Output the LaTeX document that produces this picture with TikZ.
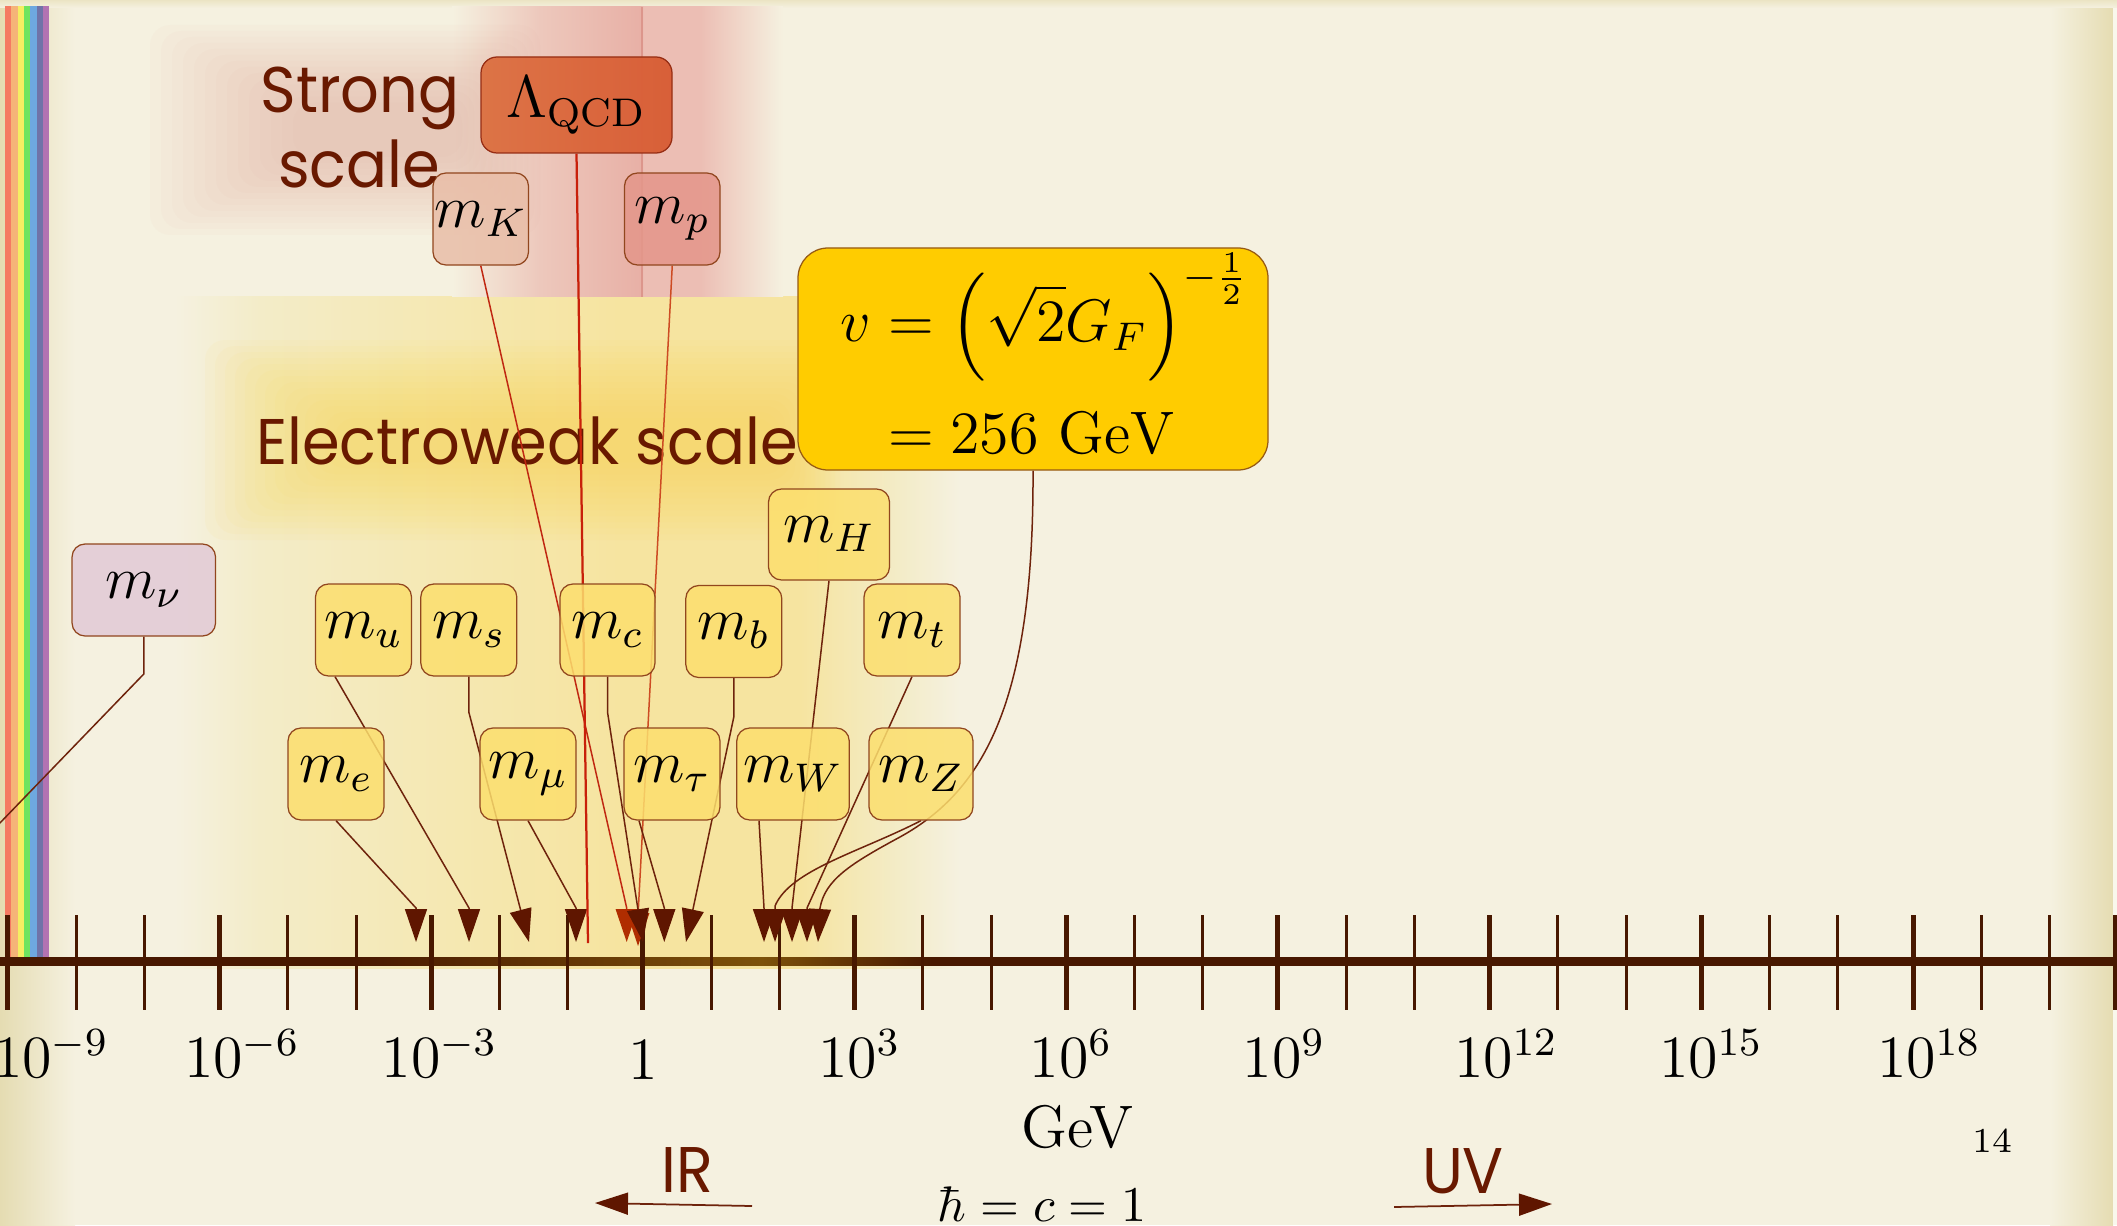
\documentclass[tikz,border=0pt]{standalone}
\usepackage{amsmath}
\usepackage{fontspec}
\newfontfamily\roundfont[FakeStretch=0.94]{Poppins}
\usetikzlibrary{arrows.meta,calc}
\definecolor{bgc}{RGB}{245,241,224}
\definecolor{edgec}{RGB}{229,220,178}
\definecolor{txtc}{RGB}{105,25,0}
\definecolor{axisc}{RGB}{72,24,0}
\definecolor{axgold}{RGB}{125,82,10}
\definecolor{linec}{RGB}{110,35,12}
\definecolor{tipc}{RGB}{95,22,0}
\definecolor{redl}{RGB}{192,40,18}
\definecolor{redl2}{RGB}{205,75,35}
\definecolor{redtip}{RGB}{176,45,0}
\definecolor{lamlc}{RGB}{200,32,10}
\definecolor{myel}{RGB}{252,223,110}
\definecolor{boxbd}{RGB}{145,70,30}
\definecolor{vfill}{RGB}{255,204,0}
\definecolor{vbd}{RGB}{150,90,20}
\definecolor{nufill}{RGB}{226,202,214}
\definecolor{kfill}{RGB}{233,190,168}
\definecolor{pfill}{RGB}{228,150,138}
\definecolor{lamL}{RGB}{216,98,62}
\definecolor{lamR}{RGB}{211,74,46}
\definecolor{lambd}{RGB}{150,45,20}
\definecolor{yw1}{RGB}{243,236,200}
\definecolor{yw2}{RGB}{245,232,178}
\definecolor{yw3}{RGB}{246,228,160}
\definecolor{ywglow}{RGB}{252,216,85}
\definecolor{rbA}{RGB}{237,200,188}
\definecolor{rbB}{RGB}{232,176,166}
\definecolor{rbC}{RGB}{236,190,180}
\definecolor{rbline}{RGB}{220,150,140}
\definecolor{pinkglow}{RGB}{228,165,152}
\definecolor{rc1}{RGB}{245,122,98}
\definecolor{rc2}{RGB}{245,180,120}
\definecolor{rc3}{RGB}{245,238,98}
\definecolor{rc4}{RGB}{110,228,95}
\definecolor{rc5}{RGB}{110,168,224}
\definecolor{rc6}{RGB}{112,115,168}
\definecolor{rc7}{RGB}{178,115,178}
\pgfdeclarehorizontalshading{ywband}{100bp}{color(0bp)=(bgc); color(25bp)=(bgc); color(30.4bp)=(yw1); color(42.5bp)=(yw2); color(53.3bp)=(yw3); color(64.8bp)=(yw3); color(71.2bp)=(yw1); color(75bp)=(bgc); color(100bp)=(bgc)}
\pgfdeclarehorizontalshading{redband}{100bp}{color(0bp)=(bgc); color(25bp)=(bgc); color(38.3bp)=(rbA); color(53.5bp)=(rbB); color(53.9bp)=(rbC); color(62.5bp)=(rbC); color(75bp)=(bgc); color(100bp)=(bgc)}
\pgfdeclarehorizontalshading{axshade}{100bp}{color(0bp)=(axisc); color(33.3bp)=(axisc); color(43bp)=(axgold); color(47bp)=(axisc); color(100bp)=(axisc)}
\pgfdeclarelayer{back}
\pgfdeclarelayer{mid}
\pgfsetlayers{back,mid,main}
\begin{document}
\begin{tikzpicture}[x=0.2pt,y=-0.2pt,
  mbox/.style={draw=boxbd, line width=0.25pt, rounded corners=2.6pt, fill=myel, fill opacity=0.85, text opacity=1, inner sep=0pt, minimum width=19.2pt, minimum height=18.4pt, font=\fontsize{12}{14}\selectfont},
  conn/.style={draw=linec, line width=0.3pt, -{Triangle[length=6.6pt,width=4.4pt,color=tipc]}},
  redconn/.style={draw=redl, line width=0.3pt, -{Triangle[length=6.6pt,width=4.4pt,color=redtip]}},
  axlab/.style={font=\fontsize{12}{14}\selectfont, inner sep=0pt, anchor=base},
  scaletxt/.style={font=\roundfont\fontsize{12.9}{15}\selectfont, text=txtc, inner sep=0pt, anchor=base},
  majtick/.style={draw=axisc, line width=1pt},
  mintick/.style={draw=axisc, line width=0.6pt},
  dirarrow/.style={draw=linec, line width=0.35pt, -{Triangle[length=6.6pt,width=4.4pt,color=tipc]}}
]
\useasboundingbox (0,0) rectangle (2117,1225);
\clip (0,0) rectangle (2117,1225);

% ---------- boxes ----------
\node[mbox, draw=lambd, left color=lamL, right color=lamR, minimum width=38.2pt, minimum height=19.2pt, rounded corners=3.2pt] (lam) at (576.5,105) {$\Lambda_{\mathrm{QCD}}$};
\node[mbox, fill=kfill, minimum width=19.1pt] (mK) at (480.75,219) {$m_K$};
\node[mbox, fill=pfill, minimum width=19.1pt] (mp) at (672.25,219) {$m_p$};
\node[mbox, fill=nufill, minimum width=28.7pt] (mnu) at (143.8,590) {$m_\nu$};
\node[mbox] (mu) at (363.5,630) {$m_u$};
\node[mbox] (ms) at (468.8,630) {$m_s$};
\node[mbox, minimum width=19pt] (mc) at (607.5,630) {$m_c$};
\node[mbox] (mb) at (733.8,631.5) {$m_b$};
\node[mbox] (mt) at (912,630) {$m_t$};
\node[mbox, minimum width=24.2pt, minimum height=18.2pt] (mH) at (829,534.5) {$m_H$};
\node[mbox] (me) at (336,774) {$m_e$};
\node[mbox] (mmu) at (528,774) {$m_\mu$};
\node[mbox] (mtau) at (672,774) {$m_\tau$};
\node[mbox, minimum width=22.5pt] (mW) at (793,774) {$m_W$};
\node[mbox, minimum width=20.8pt] (mZ) at (921,774) {$m_Z$};
\node[mbox, fill=vfill, fill opacity=1, draw=vbd, minimum width=94pt, minimum height=44.4pt, rounded corners=6pt] (v) at (1033,359) {\hspace*{4.8pt}\raisebox{-0.95pt}[\height][\depth]{$\displaystyle\begin{aligned} v &= \Big(\sqrt{2}G_F\Big)^{-\frac{1}{2}}\\[0.7pt] &= 256\ \mathrm{GeV}\end{aligned}$}};

\node[scaletxt] (strong1) at (360,113) {Strong};
\node[scaletxt] (strong2) at (359,188) {scale};

% ---------- background layer ----------
\begin{pgfonlayer}{back}
\clip (0,0) rectangle (2117,1225);
\fill[bgc] (0,0) rectangle (2117,1225);
\fill[left color=edgec, right color=bgc] (0,0) rectangle (75,1225);
\fill[left color=bgc, right color=edgec] (2050,0) rectangle (2113,1225);
\fill[bgc!60!white] (2113,0) rectangle (2117,1225);
\fill[top color=edgec!60!bgc, bottom color=bgc] (0,0) rectangle (2117,8);
% yellow electroweak region
\shade[shading=ywband] (175,297) rectangle (960,968);
\foreach \i in {0,...,13}
  \fill[ywglow, fill opacity=0.055, rounded corners=4pt] ({205+\i*10},{340+\i*6}) rectangle ({840-\i*5},{540-\i*6});
% red strong region
\shade[shading=redband] (452,7) rectangle (783,297);
\draw[rbline, line width=0.3pt] (642,7) -- (642,297);
\foreach \i in {0,...,13}
  \fill[pinkglow, fill opacity=0.045, rounded corners=4pt] ({150+\i*11},{25+\i*6}) rectangle ({540-\i*6},{235-\i*6});
% rainbow
\foreach \c [count=\i from 0] in {rc1,rc2,rc3,rc4,rc5,rc6,rc7}
  \fill[\c] ({5+6.3*\i},6) rectangle ({11.4+6.3*\i},957);
% axis
\shade[shading=axshade] (0,957) rectangle (2117,965);
\foreach \k in {0,...,9} {
  \draw[majtick] ({7.7+211.7*\k},915) -- ++(0,95);
  \draw[mintick] ({76+211.7*\k},915) -- ++(0,95);
  \draw[mintick] ({144.3+211.7*\k},915) -- ++(0,95);
}
\draw[majtick] (2115,915) -- ++(0,95);
\node[axlab] (l9) at (51,1077) {$10^{-9}$};
\node[axlab] (l6) at (242,1077) {$10^{-6}$};
\node[axlab] (l3) at (439.5,1077) {$10^{-3}$};
\node[axlab] (l0) at (643.6,1079) {$1$};
\node[axlab] (p3) at (859.4,1077) {$10^{3}$};
\node[axlab] (p6) at (1071,1077) {$10^{6}$};
\node[axlab] (p9) at (1284,1077) {$10^{9}$};
\node[axlab] (p12) at (1506,1077) {$10^{12}$};
\node[axlab] (p15) at (1711,1077) {$10^{15}$};
\node[axlab] (p18) at (1929,1077) {$10^{18}$};
\node[axlab] (gev) at (1077.5,1147) {GeV};
\node[axlab, font=\fontsize{10}{12}\selectfont] (units) at (1042,1221) {$\hbar = c = 1$};
\node[axlab, font=\fontsize{7}{9}\selectfont] (page) at (1992,1152) {14};
\node[scaletxt] (ew) at (527,464) {Electroweak scale};
\node[scaletxt] (ir) at (687.5,1192) {IR};
\node[scaletxt] (uv) at (1463,1193) {UV};
\coordinate (irA) at (752,1206);
\coordinate (irB) at (595,1203);
\coordinate (uvA) at (1394,1207);
\coordinate (uvB) at (1552,1204);
\draw[dirarrow] (irA) -- (irB);
\draw[dirarrow] (uvA) -- (uvB);
\end{pgfonlayer}

% ---------- connectors ----------
\begin{pgfonlayer}{mid}
\clip (0,0) rectangle (2117,1225);
\coordinate (tnu) at (-115,942);
\coordinate (te) at (416,942);
\coordinate (tu) at (469,942);
\coordinate (ts) at (529,942);
\coordinate (tmu) at (576,942);
\coordinate (tK) at (626.7,942);
\coordinate (tp) at (638,946);
\coordinate (tL) at (588,943);
\coordinate (tc) at (643,942);
\coordinate (ttau) at (664.3,942);
\coordinate (tb) at (686,942);
\coordinate (tW) at (764,942);
\coordinate (tZ) at (775,942);
\coordinate (tH) at (792,942);
\coordinate (tt) at (807,942);
\coordinate (tv) at (818,942);
\draw[conn] (mnu.south) -- (143.8,674) -- (tnu);
\draw[conn] (me.south) -- (416,908) -- (te);
\draw[conn] ($(mu.south)+(-28.5,0)$) -- (469,908) -- (tu);
\draw[conn] (ms.south) -- (468.8,712) -- (ts);
\draw[conn] (mmu.south) -- (576,908) -- (tmu);
\draw[redconn] (mK.south) -- (626.7,908) -- (tK);
\draw[redconn, draw=redl2] (mp.south) -- (638.3,910) -- (tp);
\draw[draw=lamlc, line width=0.45pt] (lam.south) -- (tL);
\draw[conn] (mc.south) -- (607.5,712) -- (tc);
\draw[conn] ($(mtau.south)+(-33,0)$) -- (664.3,908) -- (ttau);
\draw[conn] (mb.south) -- (733.8,717) -- (tb);
\draw[conn] ($(mW.south)+(-34,0)$) -- (764,908) -- (tW);
\draw[conn] (mZ.south) .. controls (860,852) and (790,870) .. (775,906) -- (tZ);
\draw[conn] (mH.south) -- (792,908) -- (tH);
\draw[conn] (mt.south) -- (807,908) -- (tt);
\draw[conn] (v.south) .. controls (1034,700) and (985,790) .. (900,837) .. controls (850,864) and (825,880) .. (820,908) -- (tv);
\end{pgfonlayer}
\end{tikzpicture}
\end{document}
